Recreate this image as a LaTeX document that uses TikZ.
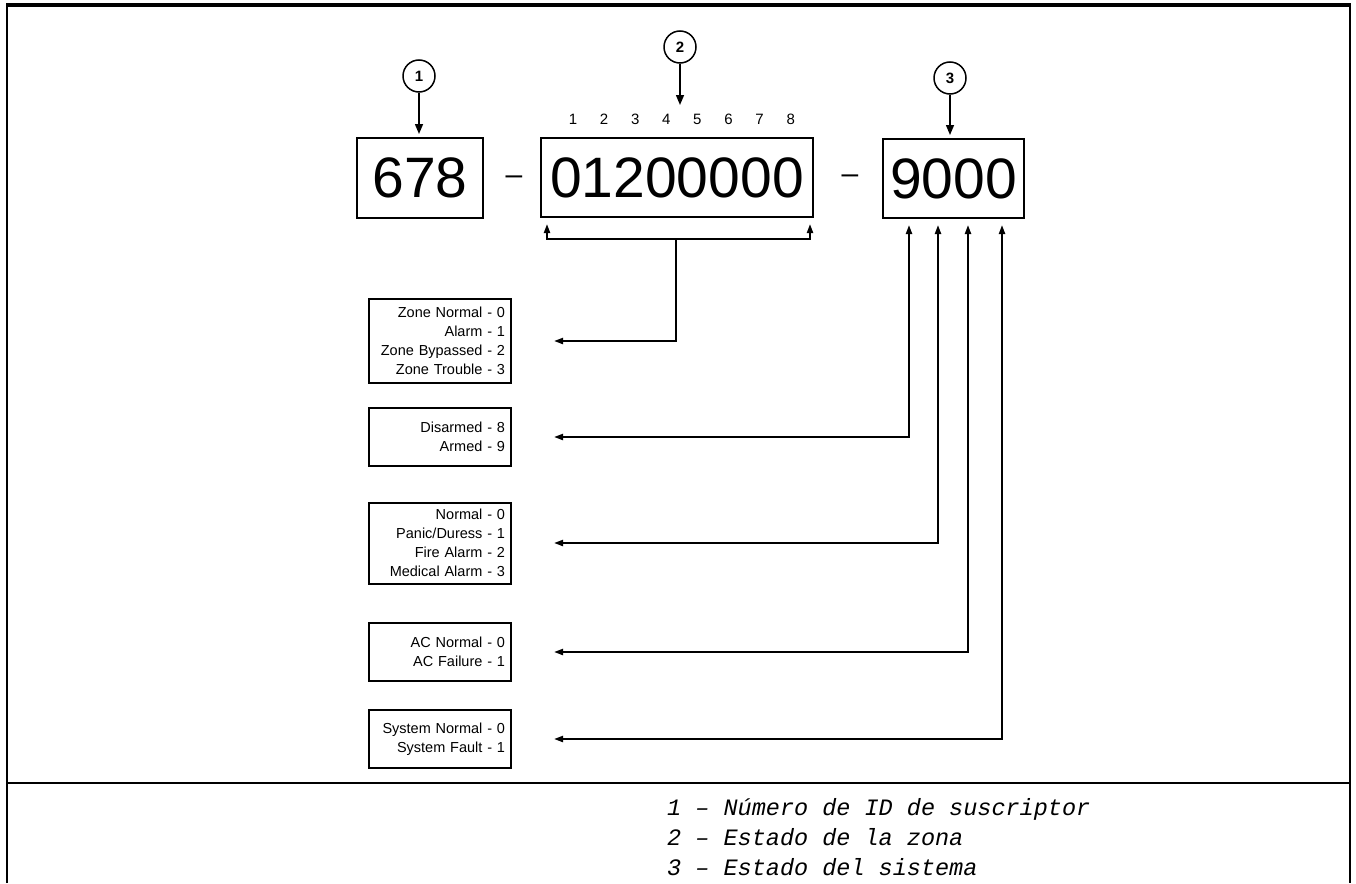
\documentclass[tikz,border=0pt]{standalone}
\usepackage{fontspec}
\setmainfont{Liberation Sans}
\newfontfamily\legendfont{Liberation Mono}
\usetikzlibrary{arrows.meta}
\tikzset{
  numbox/.style={rectangle, draw, line width=2pt, inner sep=2pt, font=\fontsize{57}{57}\selectfont},
  codebox/.style={rectangle, draw, line width=2pt, minimum width=142pt, text width=130pt,
                  inner xsep=6pt, inner ysep=0pt, align=right, font=\fontsize{14.5}{19}\selectfont},
  callout/.style={circle, draw, line width=1.5pt, minimum size=32pt, inner sep=0pt,
                  font=\fontsize{15}{15}\selectfont\bfseries},
  digit/.style={inner sep=0pt, font=\fontsize{15}{15}\selectfont},
  sep/.style={inner sep=0pt, font=\fontsize{30}{30}\selectfont},
  legend/.style={anchor=base west, inner sep=0pt, font=\legendfont\itshape\fontsize{23.5}{30}\selectfont},
  arr/.style={-{Triangle[length=9pt, width=6pt]}, line width=2pt},
  tap/.style={{Triangle[length=9pt, width=6pt]}-{Triangle[length=9pt, width=6pt]}, line width=2pt},
  pin/.style={-{Triangle[length=10pt, width=8pt]}, line width=1.5pt},
}

\begin{document}
\begin{tikzpicture}[x=1pt, y=-1pt]
  \useasboundingbox (0,0) rectangle (1356,883);
  % frame
  \draw[line width=2pt] (7,883) -- (7,5) (1350,5) -- (1350,883);
  \draw[line width=3.5pt] (6,5) -- (1351,5);
  \draw[line width=2pt] (7,783) -- (1350,783);

  % report string
  \node[numbox, minimum width=126pt, minimum height=80pt] (sub) at (420,178) {678};
  \node[numbox, minimum width=272pt, minimum height=79pt] (zone) at (677,177.5) {01200000};
  \node[numbox, minimum width=141pt, minimum height=79pt] (sys) at (953.5,178.5) {9000};
  \node[sep] (dash1) at (514,180) {–};
  \node[sep] (dash2) at (850,179) {–};
  \foreach \i in {1,...,8}
    \node[digit] (d\i) at ({573+31.1*(\i-1)},119) {\i};

  \node[callout] (c1) at (419,76) {1};
  \node[callout] (c2) at (680,47) {2};
  \node[callout] (c3) at (950,78) {3};
  \coordinate (c2tip) at (680,105);
  \draw[pin, shorten >=3pt] (c1) -- (c1 |- sub.north);
  \draw[pin] (c2) -- (c2tip);
  \draw[pin, shorten >=3pt] (c3) -- (c3 |- sys.north);

  % code tables
  \node[codebox, minimum height=84pt] (lzone) at (440,341) {Zone Normal - 0\\Alarm - 1\\Zone Bypassed - 2\\Zone Trouble - 3};
  \node[codebox, minimum height=58pt] (larm) at (440,437) {Disarmed - 8\\Armed - 9};
  \node[codebox, minimum height=81pt] (lalarm) at (440,543) {Normal - 0\\Panic/Duress - 1\\Fire Alarm - 2\\Medical Alarm - 3};
  \node[codebox, minimum height=58pt] (lac) at (440,652) {AC Normal - 0\\AC Failure - 1};
  \node[codebox, minimum height=58pt] (lfault) at (440,739) {System Normal - 0\\System Fault - 1};

  % zone bracket
  \coordinate (zl) at (547,224);
  \coordinate (zr) at (810,224);
  \coordinate (zm) at (676,239);
  \draw[tap] (zl) -- ++(0,15) -| (zr);
  \draw[arr, shorten >=42pt] (zm) |- (lzone.east);

  % system digits
  \coordinate (s1) at (909,225);
  \coordinate (s2) at (938,225);
  \coordinate (s3) at (968,225);
  \coordinate (s4) at (1002,225);
  \draw[tap, shorten <=42pt] (larm.east) -| (s1);
  \draw[tap, shorten <=42pt] (lalarm.east) -| (s2);
  \draw[tap, shorten <=42pt] (lac.east) -| (s3);
  \draw[tap, shorten <=42pt] (lfault.east) -| (s4);

  \node[legend] (leg1) at (667,815) {1 – Número de ID de suscriptor};
  \node[legend] (leg2) at (667,845) {2 – Estado de la zona};
  \node[legend] (leg3) at (667,875) {3 – Estado del sistema};
\end{tikzpicture}
\end{document}
